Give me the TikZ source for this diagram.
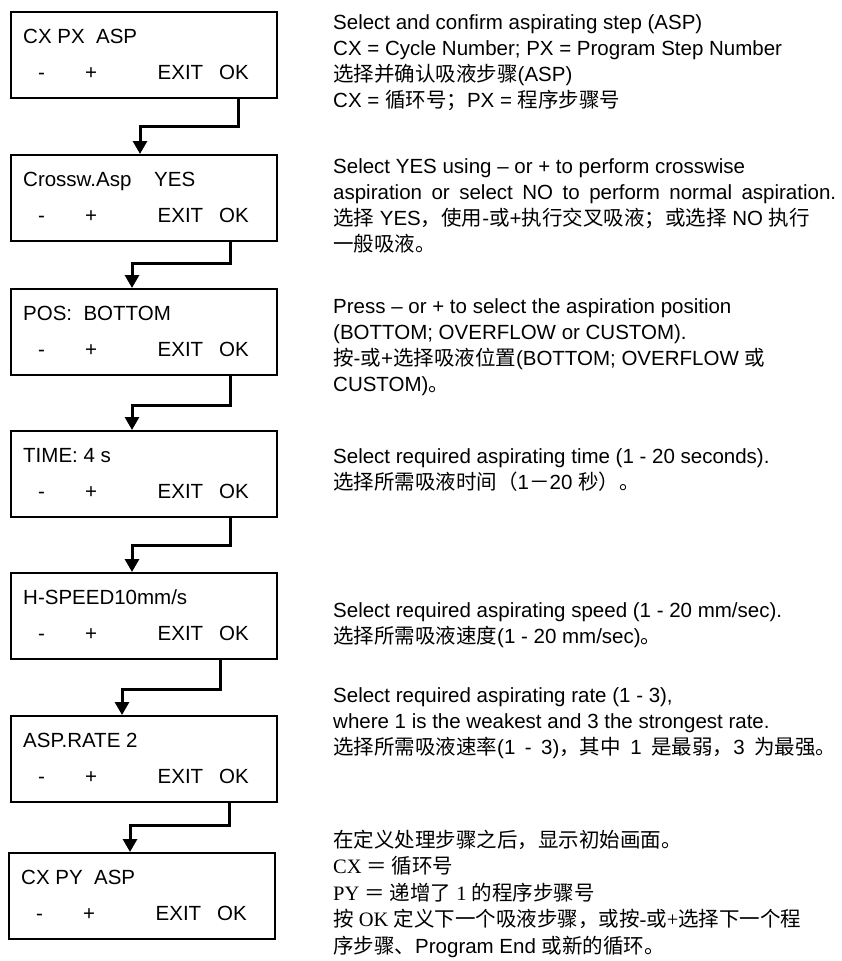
\documentclass[tikz,border=0pt]{standalone}
\usepackage{fontspec}
\setmainfont{Liberation Sans}
\newfontfamily\cjkfont{Noto Sans CJK SC}
\newfontfamily\tmsfont{Liberation Serif}
\usetikzlibrary{arrows.meta}

\newcommand{\zhs}[1]{{\cjkfont #1}}  % Chinese run inside a Latin line

\tikzset{
  lcd/.style={draw, line width=1.6pt, minimum width=266pt, minimum height=86pt, inner sep=0pt},
  lcdtext/.style={inner sep=0pt, anchor=base west, font=\fontsize{20.5}{26}\selectfont},
  note/.style={inner sep=0pt, align=left, anchor=base west, font=\fontsize{20.5}{26}\selectfont},
  flow/.style={line width=3pt, -{Triangle[length=13pt,width=14pt]}},
}

% Syntax: \lcdscreen{name}{left x}{top y}{first line}
\newcommand{\lcdscreen}[4]{%
  \node[lcd, anchor=north west] (#1) at (#2,#3) {};
  \node[lcdtext] (#1-top) at ([shift={(13,32)}]#1.north west) {#4};
  \node[lcdtext] (#1-minus) at ([shift={(28,68)}]#1.north west) {-};
  \node[lcdtext] (#1-plus) at ([shift={(75,68)}]#1.north west) {+};
  \node[lcdtext] (#1-exit) at ([shift={(147.5,68)}]#1.north west) {EXIT};
  \node[lcdtext] (#1-ok) at ([shift={(209,68)}]#1.north west) {OK};
}

\begin{document}
\begin{tikzpicture}[x=1pt, y=-1pt]
    \useasboundingbox (0,0) rectangle (841,961);

    % displays, top to bottom (units of pixels)
    \lcdscreen{cxpx}{10}{11}{CX PX\ \ ASP}
    \lcdscreen{cross}{10}{154}{Crossw.Asp\ \ \ \ YES}
    \lcdscreen{pos}{10}{288}{POS:\ \ BOTTOM}
    \lcdscreen{time}{10}{430}{TIME: 4 s}
    \lcdscreen{speed}{10}{572}{H-SPEED10mm/s}
    \lcdscreen{rate}{10}{715}{ASP.RATE 2}
    \lcdscreen{cxpy}{8}{852}{CX PY\ \ ASP}

    % OK leads to the next display
    \draw[flow] ([xshift=228pt]cxpx.south west) -- ++(0,28) -| ([xshift=130pt]cross.north west);
    \draw[flow] ([xshift=220pt]cross.south west) -- ++(0,22) -| ([xshift=122pt]pos.north west);
    \draw[flow] ([xshift=220pt]pos.south west) -- ++(0,30) -| ([xshift=122pt]time.north west);
    \draw[flow] ([xshift=220pt]time.south west) -- ++(0,28) -| ([xshift=122pt]speed.north west);
    \draw[flow] ([xshift=210pt]speed.south west) -- ++(0,30) -| ([xshift=112pt]rate.north west);
    \draw[flow] ([xshift=219pt]rate.south west) -- ++(0,23) -| ([xshift=122pt]cxpy.north west);

    % explanations on the right (placed at the baseline of their last line)
    \node[note] (n-cxpx) at (333,107) {Select and confirm aspirating step (ASP)\\
      CX = Cycle Number; PX = Program Step Number\\
      \zhs{选择并确认吸液步骤}(ASP)\\
      CX = \zhs{循环号；}PX = \zhs{程序步骤号}};
    \node[note] (n-cross) at (333,251) {Select YES using -- or + to perform crosswise\\
      \makebox[503pt][s]{aspiration or select NO to perform normal aspiration.}\\
      \zhs{选择} YES\zhs{，使用}-\zhs{或}+\zhs{执行交叉吸液；或选择} NO \zhs{执行}\\
      \zhs{一般吸液。}};
    \node[note] (n-pos) at (333,391) {Press -- or + to select the aspiration position\\
      (BOTTOM; OVERFLOW or CUSTOM).\\
      \zhs{按}-\zhs{或}+\zhs{选择吸液位置}(BOTTOM; OVERFLOW \zhs{或}\\
      CUSTOM)\zhs{。}};
    \node[note] (n-time) at (333,489) {Select required aspirating time (1 - 20 seconds).\\
      \zhs{选择所需吸液时间（}1\zhs{－}20 \zhs{秒）。}};
    \node[note] (n-speed) at (333,643) {Select required aspirating speed (1 - 20 mm/sec).\\
      \zhs{选择所需吸液速度}(1 - 20 mm/sec)\zhs{。}};
    \node[note] (n-rate) at (333,754) {Select required aspirating rate (1 - 3),\\
      where 1 is the weakest and 3 the strongest rate.\\
      \makebox[503pt][s]{\zhs{选择所需吸液速率}(1 - 3)\zhs{，其中} 1 \zhs{是最弱，}3 \zhs{为最强。}}};
    \node[note, font=\fontsize{20.5}{26.5}\selectfont] (n-cxpy) at (333,953) {\zhs{在定义处理步骤之后，显示初始画面。}\\
      {\tmsfont CX }\zhs{＝ 循环号}\\
      {\tmsfont PY }\zhs{＝ 递增了}{\tmsfont\ 1 }\zhs{的程序步骤号}\\
      \zhs{按}{\tmsfont\ OK }\zhs{定义下一个吸液步骤，或按}{\tmsfont -}\zhs{或}{\tmsfont +}\zhs{选择下一个程}\\
      \zhs{序步骤、}Program End \zhs{或新的循环。}};
\end{tikzpicture}
\end{document}
